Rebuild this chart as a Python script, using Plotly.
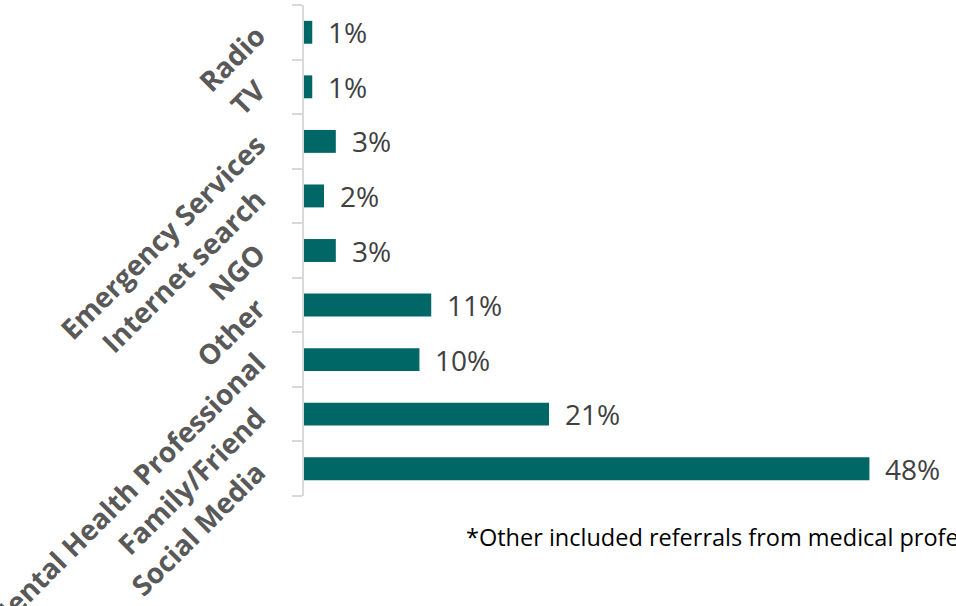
import plotly.graph_objects as go

categories = ["Social Media", "Family/Friend", "Mental Health Professional", "Other",
              "NGO", "Internet search", "Emergency Services", "TV", "Radio"]
values = [48.0, 20.8, 9.8, 10.8, 2.7, 1.7, 2.7, 0.7, 0.7]
value_labels = ["48%", "21%", "10%", "11%", "3%", "2%", "3%", "1%", "1%"]
footnote = "*Other included referrals from medical professionals"

BAR = "#006666"
ML, MR, MT, MB = 304, 10, 5, 110

fig = go.Figure()
fig.add_trace(go.Bar(
    y=categories, x=values, orientation="h",
    marker=dict(color=BAR, line=dict(width=0)),
    width=0.42, cliponaxis=False, hoverinfo="skip",
))

for c, v, t in zip(categories, values, value_labels):
    fig.add_annotation(x=v, y=c, text=t, showarrow=False, xanchor="left",
                       yanchor="middle", xshift=14,
                       font=dict(family="Open Sans", size=28, color="#404040"))

plot_w = 956 - ML - MR
plot_h = 606 - MT - MB
fig.add_annotation(x=(464 - ML) / plot_w, y=(606 - MB - 537) / plot_h,
                   xref="paper", yref="paper", text=footnote,
                   showarrow=False, xanchor="left", yanchor="middle",
                   font=dict(family="Open Sans", size=23.5, color="#000000"))

fig.update_layout(
    width=956, height=606,
    margin=dict(l=ML, r=MR, t=MT, b=MB, autoexpand=False),
    paper_bgcolor="white", plot_bgcolor="white",
    showlegend=False,
    xaxis=dict(range=[0, 54.5], visible=False, fixedrange=True, automargin=False),
    yaxis=dict(
        categoryorder="array", categoryarray=categories,
        range=[-0.5, 8.5], automargin=False,
        tickangle=-45,
        tickfont=dict(family="Open Sans", size=28, color="#595959", weight="bold"),
        showline=True, linecolor="#d9d9d9", linewidth=2,
        ticks="outside", ticklen=10, tickcolor="#d9d9d9", tickwidth=2,
        tickson="boundaries", showgrid=False, zeroline=False,
        ticklabelstandoff=39,
    ),
)

fig.write_html("out.html", config={"displayModeBar": False, "staticPlot": True},
               post_script="document.body.style.margin='0';document.body.style.overflow='hidden';")
